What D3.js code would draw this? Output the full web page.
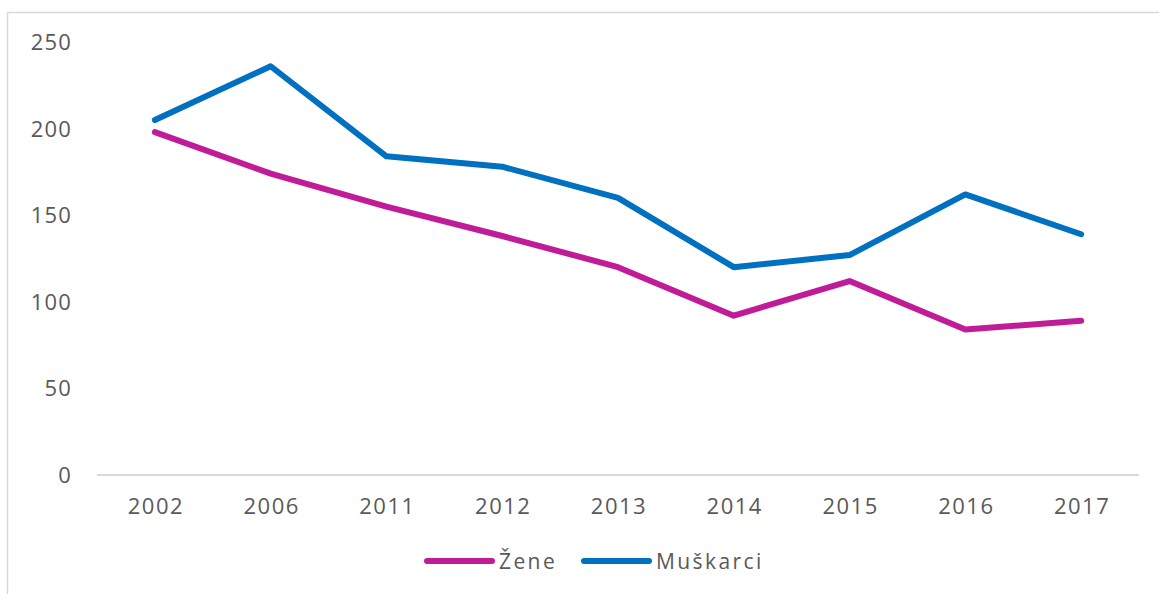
<!DOCTYPE html>
<html>
<head>
<meta charset="utf-8">
<script src="https://cdn.jsdelivr.net/npm/d3@7"></script>
<style>
  body { margin: 0; background: #fff; }
  svg { display: block; }
  text { font-family: "Open Sans", sans-serif; fill: #595959; }
</style>
</head>
<body>
<div id="chart"></div>
<script>
// values
var years = ["2002", "2006", "2011", "2012", "2013", "2014", "2015", "2016", "2017"];
var zene = [198, 174, 155, 138, 120, 92, 112, 84, 89];
var muskarci = [205, 236, 184, 178, 160, 120, 127, 162, 139];
var yTicks = [0, 50, 100, 150, 200, 250];
var seriesNames = ["Žene", "Muškarci"];
var seriesColors = ["#c11c98", "#0070c0"];

var width = 1159, height = 594;

var svg = d3.select("#chart").append("svg")
            .attr("width", width)
            .attr("height", height);

// chart frame (only top and left edges are in view)
svg.append("rect")
   .attr("x", 7.5).attr("y", 12.5)
   .attr("width", 1200).attr("height", 700)
   .style("fill", "none")
   .style("stroke", "#d9d9d9")
   .style("stroke-width", 1.5);

var x = d3.scaleBand().domain(years).range([97, 1139]);
var y = d3.scaleLinear().domain([0, 250]).range([475, 42]);

// y labels
svg.selectAll(".ylab")
   .data(yTicks)
   .enter()
   .append("text")
   .attr("class", "ylab")
   .attr("x", 72)
   .attr("y", function (d) { return y(d) + 8; })
   .attr("text-anchor", "end")
   .style("font-size", "22px")
   .style("letter-spacing", "1.2px")
   .text(function (d) { return d; });

// baseline
svg.append("line")
   .attr("x1", x.range()[0]).attr("x2", x.range()[1])
   .attr("y1", y(0)).attr("y2", y(0))
   .style("stroke", "#d9d9d9")
   .style("stroke-width", 2);

// x labels
svg.selectAll(".xlab")
   .data(years)
   .enter()
   .append("text")
   .attr("class", "xlab")
   .attr("x", function (d) { return x(d) + x.bandwidth() / 2 + 1; })
   .attr("y", 514)
   .attr("text-anchor", "middle")
   .style("font-size", "22px")
   .style("letter-spacing", "1.5px")
   .text(function (d) { return d; });

var line = d3.line()
             .x(function (d, i) { return x(years[i]) + x.bandwidth() / 2; })
             .y(function (d) { return y(d); });

[zene, muskarci].forEach(function (vals, i) {
  svg.append("path")
     .datum(vals)
     .attr("d", line)
     .style("fill", "none")
     .style("stroke", seriesColors[i])
     .style("stroke-width", 6)
     .style("stroke-linejoin", "round")
     .style("stroke-linecap", "round");
});

// legend
var legendX = [427, 584];
var legend = svg.selectAll(".legend")
                .data(seriesNames)
                .enter()
                .append("g")
                .attr("class", "legend")
                .attr("transform", function (d, i) { return "translate(" + legendX[i] + ",561)"; });

legend.append("line")
      .attr("x1", 0).attr("x2", 65)
      .attr("y1", 0).attr("y2", 0)
      .style("stroke", function (d, i) { return seriesColors[i]; })
      .style("stroke-width", 6)
      .style("stroke-linecap", "round");

legend.append("text")
      .attr("x", 72)
      .attr("y", 8)
      .style("font-size", "21px")
      .style("letter-spacing", "2.4px")
      .text(function (d) { return d; });
</script>
</body>
</html>
